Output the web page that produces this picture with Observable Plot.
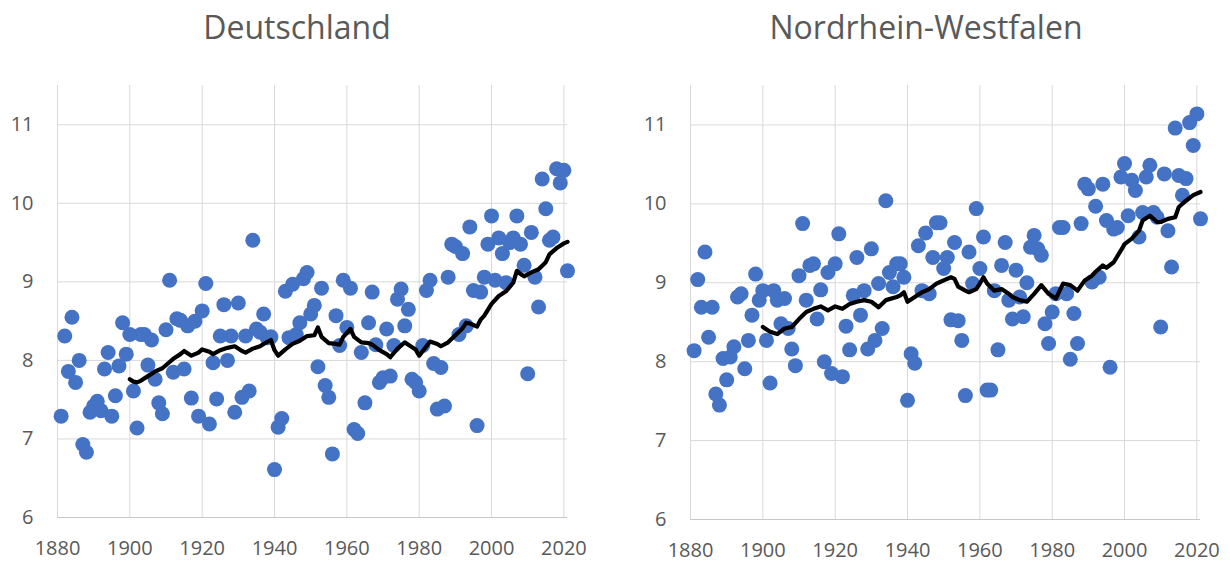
<!DOCTYPE html>
<html>
<head>
<meta charset="utf-8">
<script src="https://cdn.jsdelivr.net/npm/d3@7"></script>
<script src="https://cdn.jsdelivr.net/npm/@observablehq/plot@0.6"></script>
<style>
  html, body { margin: 0; padding: 0; background: #fff; }
  #wrap { position: relative; width: 1230px; height: 562px; overflow: hidden; font-family: "Open Sans", sans-serif; }
  .title { position: absolute; text-align: center; font-size: 32px; line-height: 32px; color: #595959; white-space: nowrap; }
  .panel { position: absolute; }
</style>
</head>
<body>
<div id="wrap">
  <div class="title" style="left:-3px; top:11px; width:600px;">Deutschland</div>
  <div class="title" style="left:626px; top:11px; width:600px;">Nordrhein-Westfalen</div>
  <div class="panel" id="de" style="left:0px; top:70px;"></div>
  <div class="panel" id="nrw" style="left:620px; top:70px;"></div>
</div>
<script>
// ---- data ----
const firstYear = 1881;

// Annual mean temperature, Deutschland, 1881–2021 (°C)
const tempDE = [
  7.29, 8.31, 7.86, 8.55, 7.72, 8.00, 6.93, 6.83, 7.34, 7.42,
  7.48, 7.36, 7.89, 8.10, 7.29, 7.55, 7.93, 8.48, 8.08, 8.33,
  7.61, 7.14, 8.33, 8.33, 7.94, 8.26, 7.76, 7.46, 7.32, 8.39,
  9.02, 7.85, 8.53, 8.51, 7.89, 8.44, 7.52, 8.50, 7.29, 8.63,
  8.98, 7.19, 7.97, 7.51, 8.31, 8.71, 8.00, 8.31, 7.34, 8.73,
  7.53, 8.31, 7.61, 9.53, 8.40, 8.36, 8.59, 8.29, 8.30, 6.61,
  7.15, 7.26, 8.88, 8.29, 8.97, 8.33, 8.48, 9.04, 9.12, 8.59,
  8.70, 7.92, 8.92, 7.68, 7.53, 6.81, 8.57, 8.19, 9.02, 8.42,
  8.92, 7.12, 7.07, 8.10, 7.46, 8.48, 8.87, 8.20, 7.72, 7.78,
  8.40, 7.80, 8.19, 8.78, 8.91, 8.44, 8.65, 7.76, 7.72, 7.61,
  8.19, 8.89, 9.02, 7.96, 7.38, 7.91, 7.42, 9.06, 9.48, 9.45,
  8.33, 9.36, 8.44, 9.70, 8.89, 7.17, 8.87, 9.06, 9.48, 9.84,
  9.02, 9.56, 9.36, 8.99, 9.50, 9.56, 9.84, 9.48, 9.21, 7.83,
  9.63, 9.06, 8.68, 10.31, 9.93, 9.53, 9.57, 10.44, 10.26, 10.42,
  9.14
];

// Annual mean temperature, Nordrhein-Westfalen, 1881–2021 (°C)
const tempNRW = [
  8.14, 9.04, 8.69, 9.39, 8.31, 8.69, 7.59, 7.45, 8.04, 7.77,
  8.06, 8.19, 8.82, 8.86, 7.91, 8.27, 8.59, 9.11, 8.78, 8.90,
  8.27, 7.73, 8.90, 8.78, 8.48, 8.80, 8.42, 8.16, 7.95, 9.09,
  9.75, 8.78, 9.22, 9.24, 8.54, 8.91, 8.00, 9.13, 7.85, 9.24,
  9.62, 7.81, 8.45, 8.15, 8.84, 9.32, 8.59, 8.90, 8.16, 9.43,
  8.27, 8.99, 8.42, 10.04, 9.13, 8.95, 9.24, 9.24, 9.07, 7.51,
  8.10, 7.98, 9.47, 8.90, 9.63, 8.86, 9.32, 9.76, 9.76, 9.18,
  9.32, 8.53, 9.51, 8.52, 8.27, 7.57, 9.39, 8.99, 9.94, 9.18,
  9.58, 7.64, 7.64, 8.90, 8.15, 9.22, 9.51, 8.78, 8.54, 9.16,
  8.82, 8.57, 9.00, 9.45, 9.60, 9.43, 9.35, 8.48, 8.23, 8.63,
  8.86, 9.70, 9.70, 8.86, 8.03, 8.61, 8.23, 9.75, 10.25, 10.19,
  9.01, 9.97, 9.07, 10.25, 9.79, 7.93, 9.68, 9.70, 10.34, 10.51,
  9.85, 10.30, 10.17, 9.58, 9.89, 10.34, 10.49, 9.89, 9.83, 8.44,
  10.38, 9.66, 9.20, 10.96, 10.36, 10.11, 10.32, 11.03, 10.74, 11.14,
  9.81
];

// 30-year running mean, Deutschland (years and values)
const meanYearsDE = [1900,1901,1902,1903,1905,1907,1909,1911,1912,1914,1915,1917,1919,1920,1922,1923,1925,1927,1929,1931,1932,1934,1936,1937,1939,1940,1941,1943,1945,1947,1949,1951,1952,1953,1955,1957,1958,1959,1961,1962,1964,1966,1967,1969,1971,1972,1974,1976,1977,1979,1980,1981,1983,1985,1986,1988,1990,1992,1993,1994,1996,1997,1998,2000,2002,2004,2006,2007,2008,2009,2011,2013,2015,2016,2018,2019,2020,2021];
const meanDE      = [7.76,7.73,7.72,7.74,7.80,7.86,7.90,7.98,8.02,8.08,8.12,8.06,8.10,8.14,8.11,8.08,8.13,8.16,8.18,8.12,8.10,8.15,8.18,8.21,8.26,8.13,8.06,8.14,8.21,8.25,8.31,8.32,8.42,8.30,8.22,8.21,8.20,8.30,8.40,8.30,8.23,8.22,8.20,8.13,8.08,8.04,8.15,8.23,8.20,8.14,8.06,8.12,8.24,8.21,8.18,8.23,8.32,8.41,8.48,8.47,8.43,8.52,8.57,8.72,8.82,8.88,8.99,9.14,9.10,9.07,9.12,9.16,9.25,9.35,9.43,9.46,9.49,9.51];

// 30-year running mean, Nordrhein-Westfalen
const meanYearsNRW = [1900,1902,1904,1906,1908,1910,1912,1914,1916,1918,1920,1922,1924,1926,1928,1930,1932,1934,1937,1938,1939,1940,1942,1944,1946,1948,1949,1950,1952,1953,1954,1956,1957,1959,1960,1961,1962,1964,1966,1968,1969,1971,1973,1975,1977,1979,1981,1983,1985,1987,1989,1991,1992,1994,1995,1997,1999,2000,2002,2004,2005,2007,2009,2010,2012,2014,2015,2017,2019,2021];
const meanNRW      = [8.44,8.38,8.35,8.42,8.44,8.54,8.63,8.67,8.70,8.65,8.70,8.67,8.73,8.76,8.78,8.76,8.69,8.78,8.82,8.84,8.88,8.76,8.82,8.88,8.92,8.99,9.01,9.03,9.07,9.05,8.95,8.90,8.88,8.92,8.99,9.07,8.99,8.90,8.92,8.86,8.82,8.78,8.76,8.86,8.97,8.86,8.80,8.99,8.97,8.90,9.03,9.09,9.14,9.22,9.19,9.26,9.41,9.49,9.56,9.66,9.79,9.85,9.77,9.77,9.81,9.83,9.96,10.04,10.11,10.15];

// axis ticks
const xTicks = [1880, 1900, 1920, 1940, 1960, 1980, 2000, 2020];
const yTicks = [6, 7, 8, 9, 10, 11];

// ---- drawing ----
function panel(temps, mYears, mVals, opts) {
  const pts = temps.map((t, i) => ({year: firstYear + i, t}));
  const line = mYears.map((y, i) => ({year: y, t: mVals[i]}));
  return Plot.plot({
    width: opts.width,
    height: 492,
    marginLeft: opts.marginLeft,
    marginRight: opts.marginRight,
    marginTop: 15,
    marginBottom: opts.marginBottom,
    style: {fontFamily: "'Open Sans', sans-serif", fontSize: "20px", color: "#595959", background: "#fff", overflow: "visible"},
    x: {domain: [1880, 2021]},
    y: {domain: [6, 11.5]},
    marks: [
      Plot.gridX(xTicks, {stroke: "#d9d9d9", strokeOpacity: 1, strokeWidth: 1}),
      Plot.gridY(yTicks, {stroke: "#d9d9d9", strokeOpacity: 1, strokeWidth: 1}),
      Plot.ruleY([6], {stroke: "#c8c8c8", strokeWidth: 1.2}),
      Plot.axisX(xTicks, {tickSize: 0, tickPadding: 23, tickFormat: "d", label: null, fontSize: 20}),
      Plot.axisY(yTicks, {tickSize: 0, tickPadding: 24, tickFormat: "d", label: null, fontSize: 20}),
      Plot.dot(pts, {x: "year", y: "t", r: 7.5, fill: "#4472C4"}),
      Plot.line(line, {x: "year", y: "t", stroke: "#000", strokeWidth: 4.2, strokeLinejoin: "round", strokeLinecap: "round"})
    ]
  });
}

document.getElementById("de").append(
  panel(tempDE, meanYearsDE, meanDE, {width: 600, marginLeft: 57, marginRight: 33, marginBottom: 45})
);
document.getElementById("nrw").append(
  panel(tempNRW, meanYearsNRW, meanNRW, {width: 610, marginLeft: 70, marginRight: 30, marginBottom: 43})
);
</script>
</body>
</html>
